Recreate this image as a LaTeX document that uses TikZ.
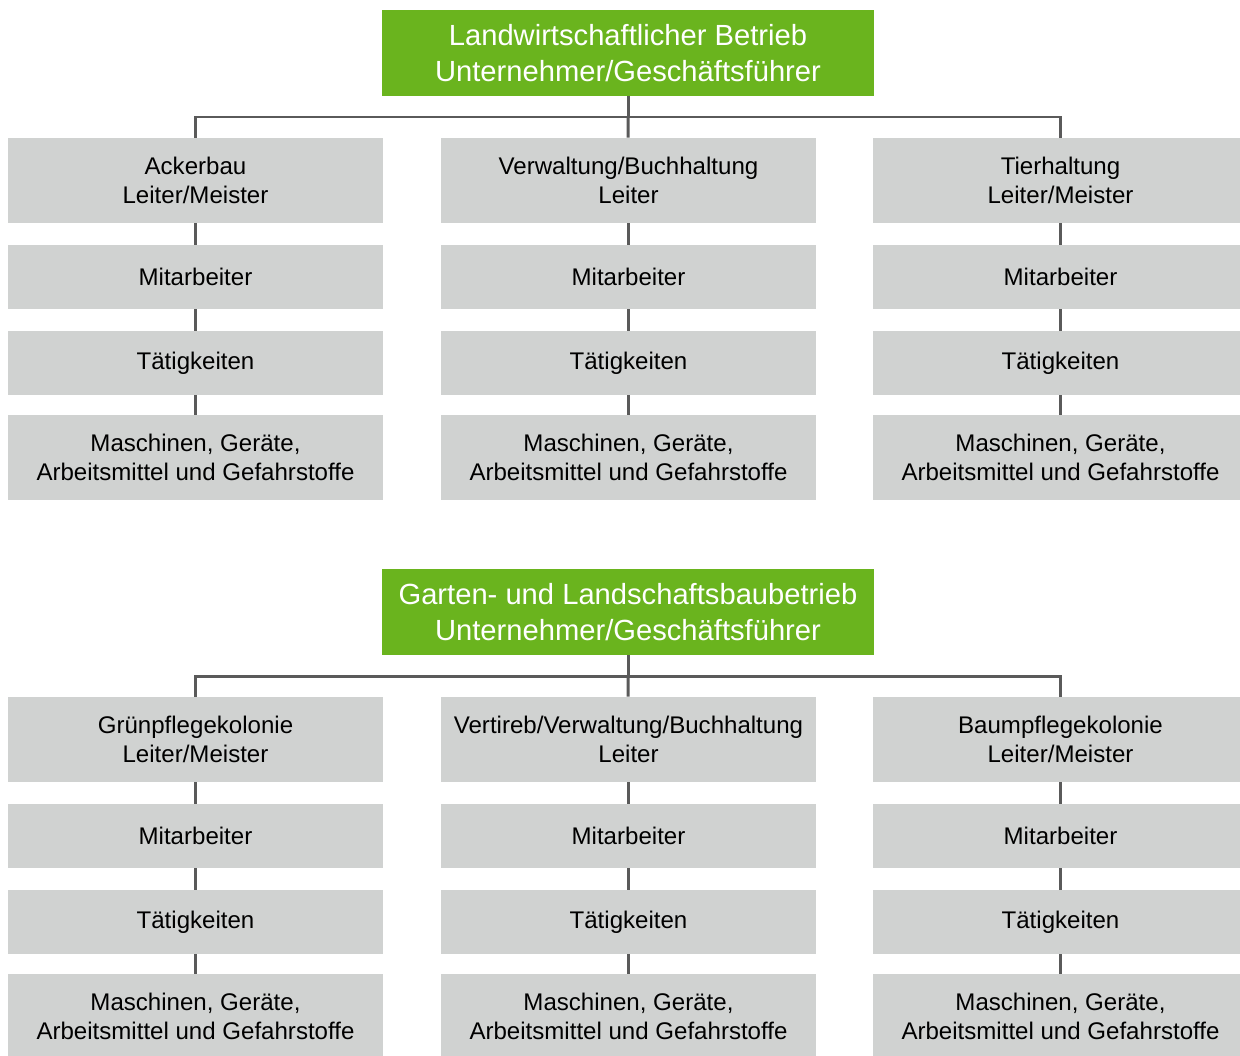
\documentclass[tikz,border=0pt]{standalone}
\usepackage{fontspec}
\setmainfont{Liberation Sans}
\usepackage{tikz}
\usetikzlibrary{positioning}
\definecolor{gruen}{RGB}{106,180,30}
\definecolor{grau}{RGB}{208,210,209}
\definecolor{linie}{RGB}{90,90,90}
\tikzset{
	hauptbox/.style={fill=gruen, text=white, inner sep=0pt, minimum width=9.84cm, minimum height=1.72cm, align=center, font=\fontsize{16.6}{20.5}\selectfont},
	bereich/.style={fill=grau, text=black, inner sep=0pt, minimum width=7.5cm, minimum height=1.7cm, align=center, font=\fontsize{13.7}{16.5}\selectfont},
	ebene/.style={fill=grau, text=black, inner sep=0pt, minimum width=7.5cm, minimum height=1.28cm, align=center, font=\fontsize{13.7}{16.5}\selectfont},
	verbindung/.style={draw=linie, line width=1.7pt}
}

\begin{document}
\begin{tikzpicture}[x=0.02cm, y=-0.02cm]
		%%%%% START %%%%%
		\useasboundingbox (0, 0) rectangle (1240, 1055);
		
		% Landwirtschaft
		\node[hauptbox] (lw) at (628, 53) {Landwirtschaftlicher Betrieb\\Unternehmer/Geschäftsführer};
		\coordinate (lwbus) at (628, 117);
		
		\node[bereich] (lwa1) at (195.5, 180.5) {Ackerbau\\Leiter/Meister};
		\node[ebene] (lwa2) at (195.5, 277) {Mitarbeiter};
		\node[ebene] (lwa3) at (195.5, 363) {Tätigkeiten};
		\node[bereich] (lwa4) at (195.5, 457.5) {Maschinen, Geräte,\\Arbeitsmittel und Gefahrstoffe};
		
		\node[bereich] (lwb1) at (628.5, 180.5) {Verwaltung/Buchhaltung\\Leiter};
		\node[ebene] (lwb2) at (628.5, 277) {Mitarbeiter};
		\node[ebene] (lwb3) at (628.5, 363) {Tätigkeiten};
		\node[bereich] (lwb4) at (628.5, 457.5) {Maschinen, Geräte,\\Arbeitsmittel und Gefahrstoffe};
		
		\node[bereich] (lwc1) at (1060.5, 180.5) {Tierhaltung\\Leiter/Meister};
		\node[ebene] (lwc2) at (1060.5, 277) {Mitarbeiter};
		\node[ebene] (lwc3) at (1060.5, 363) {Tätigkeiten};
		\node[bereich] (lwc4) at (1060.5, 457.5) {Maschinen, Geräte,\\Arbeitsmittel und Gefahrstoffe};
		
		\draw[verbindung] (lw) -- (lwbus);
		\draw[verbindung] (lwa1.north) |- (lwbus) -| (lwc1.north);
		\draw[verbindung] (lwbus) -- (lwb1);
		\draw[verbindung] (lwa1) -- (lwa2);
		\draw[verbindung] (lwa2) -- (lwa3);
		\draw[verbindung] (lwa3) -- (lwa4);
		\draw[verbindung] (lwb1) -- (lwb2);
		\draw[verbindung] (lwb2) -- (lwb3);
		\draw[verbindung] (lwb3) -- (lwb4);
		\draw[verbindung] (lwc1) -- (lwc2);
		\draw[verbindung] (lwc2) -- (lwc3);
		\draw[verbindung] (lwc3) -- (lwc4);
		
		% Garten- und Landschaftsbau
		\node[hauptbox] (gl) at (628, 612) {Garten- und Landschaftsbaubetrieb\\Unternehmer/Geschäftsführer};
		\coordinate (glbus) at (628, 676);
		
		\node[bereich] (gla1) at (195.5, 739.5) {Grünpflegekolonie\\Leiter/Meister};
		\node[ebene] (gla2) at (195.5, 836) {Mitarbeiter};
		\node[ebene] (gla3) at (195.5, 922) {Tätigkeiten};
		\node[bereich] (gla4) at (195.5, 1016.5) {Maschinen, Geräte,\\Arbeitsmittel und Gefahrstoffe};
		
		\node[bereich] (glb1) at (628.5, 739.5) {Vertireb/Verwaltung/Buchhaltung\\Leiter};
		\node[ebene] (glb2) at (628.5, 836) {Mitarbeiter};
		\node[ebene] (glb3) at (628.5, 922) {Tätigkeiten};
		\node[bereich] (glb4) at (628.5, 1016.5) {Maschinen, Geräte,\\Arbeitsmittel und Gefahrstoffe};
		
		\node[bereich] (glc1) at (1060.5, 739.5) {Baumpflegekolonie\\Leiter/Meister};
		\node[ebene] (glc2) at (1060.5, 836) {Mitarbeiter};
		\node[ebene] (glc3) at (1060.5, 922) {Tätigkeiten};
		\node[bereich] (glc4) at (1060.5, 1016.5) {Maschinen, Geräte,\\Arbeitsmittel und Gefahrstoffe};
		
		\draw[verbindung] (gl) -- (glbus);
		\draw[verbindung] (gla1.north) |- (glbus) -| (glc1.north);
		\draw[verbindung] (glbus) -- (glb1);
		\draw[verbindung] (gla1) -- (gla2);
		\draw[verbindung] (gla2) -- (gla3);
		\draw[verbindung] (gla3) -- (gla4);
		\draw[verbindung] (glb1) -- (glb2);
		\draw[verbindung] (glb2) -- (glb3);
		\draw[verbindung] (glb3) -- (glb4);
		\draw[verbindung] (glc1) -- (glc2);
		\draw[verbindung] (glc2) -- (glc3);
		\draw[verbindung] (glc3) -- (glc4);
		
		%%%%% END %%%%%
\end{tikzpicture}
\end{document}
